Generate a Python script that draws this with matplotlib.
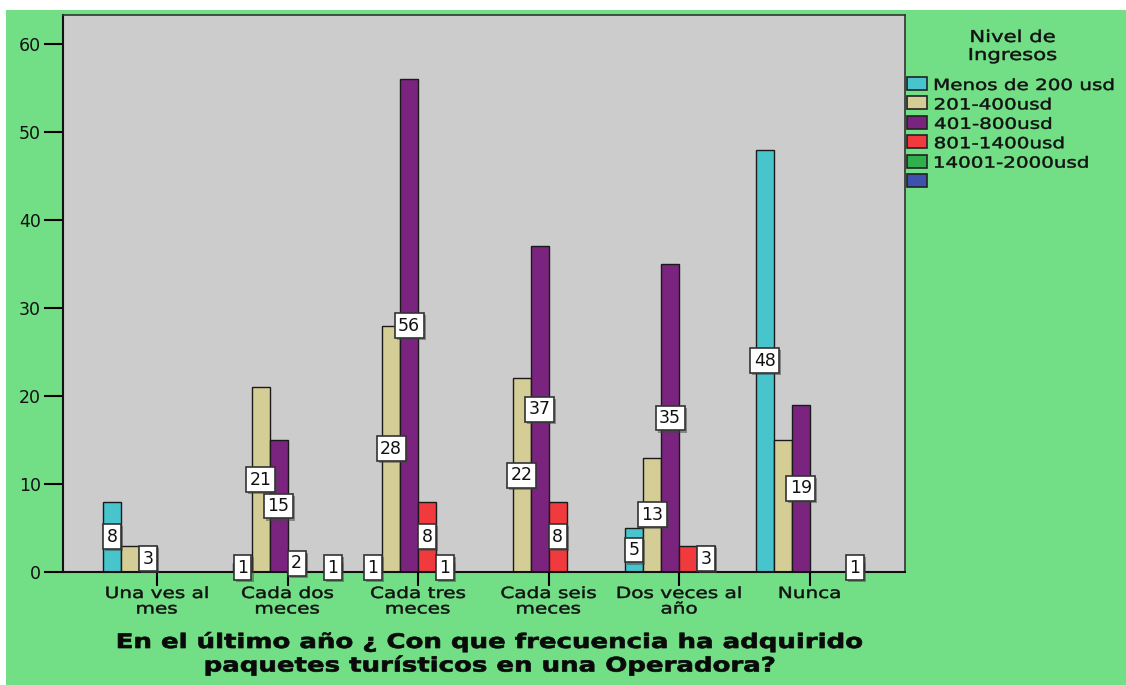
import numpy as np
import matplotlib
matplotlib.use("Agg")
import matplotlib.pyplot as plt
import matplotlib.patheffects as pe
from matplotlib.patches import Rectangle, PathPatch
from matplotlib.textpath import TextPath
from matplotlib.font_manager import FontProperties
from matplotlib.transforms import Affine2D, IdentityTransform

plt.rcParams['font.family'] = ['DejaVu Sans']

categorias = ["Una ves al\nmes", "Cada dos\nmeces", "Cada tres\nmeces",
              "Cada seis\nmeces", "Dos veces al\naño", "Nunca"]
series = ["Menos de 200 usd", "201-400usd", "401-800usd",
          "801-1400usd", "14001-2000usd", ""]
menos_200 = [8, 1, 1, 0, 5, 48]
r201_400 = [3, 21, 28, 22, 13, 15]
r401_800 = [3, 15, 56, 37, 35, 19]
r801_1400 = [0, 2, 8, 8, 3, 0]
r14001_2000 = [0, 0, 1, 0, 3, 0]
sin_dato = [0, 1, 0, 0, 0, 1]
valores = [menos_200, r201_400, r401_800, r801_1400, r14001_2000, sin_dato]
colores = ["#48c4cc", "#d4ce96", "#7a2480", "#f03a3e", "#2fb04c", "#3c52ac"]
titulo = ["En el último año ¿ Con que frecuencia ha adquirido",
          "paquetes turísticos en una Operadora?"]
titulo_leyenda = ["Nivel de", "Ingresos"]

W, H = 1126, 685
verde = "#72de86"
fig = plt.figure(figsize=(W / 100, H / 100), dpi=100, facecolor="white")
fig.patches.append(Rectangle((6 / W, 0), 1, 675 / H, transform=fig.transFigure,
                             facecolor=verde, edgecolor="none", zorder=-10))


# texto ensanchado (el original de SPSS sale estirado a lo ancho)
def texto(x, y, s, em, bold=False, ha="center", sx=1.3, color="#111111"):
    fp = FontProperties(family="DejaVu Sans", weight="bold" if bold else "normal")
    tp = TextPath((0, 0), s, size=em, prop=fp)
    ext = tp.get_extents()
    if ha == "center":
        dx = x - sx * (ext.x0 + ext.width / 2)
    else:
        dx = x - sx * ext.x0
    tr = Affine2D().scale(sx, 1).translate(dx, H - y)
    fig.add_artist(PathPatch(tr.transform_path(tp), facecolor=color, edgecolor=color,
                             linewidth=0.5 if bold else 0.35,
                             transform=IdentityTransform()))


ax = fig.add_axes([63 / W, 113 / H, 842 / W, 557 / H])
ax.set_facecolor("#cccccc")

x = np.arange(len(categorias))
ancho = 0.138
n = len(series)
for i, (vals, col) in enumerate(zip(valores, colores)):
    pos = x + (i - (n - 1) / 2) * ancho
    ax.bar(pos, vals, width=ancho, color=col, edgecolor="#1a1a1a", linewidth=1.0, zorder=2)

ax.set_xlim(-0.72, 5.73)
ax.set_ylim(0, 63.3)
ax.set_yticks([0, 10, 20, 30, 40, 50, 60])
ax.set_xticks(x)
ax.set_xticklabels([])
ax.tick_params(axis="y", labelsize=12.5, length=14, width=1.5, direction="out", pad=2,
               labelcolor="#111111")
ax.tick_params(axis="x", length=10, width=1.5, direction="out")
for s in ["left", "bottom"]:
    ax.spines[s].set_linewidth(1.5)
    ax.spines[s].set_color("#111111")
for s in ["top", "right"]:
    ax.spines[s].set_linewidth(1.2)
    ax.spines[s].set_color("#333333")

fig.canvas.draw()

# nombres de las categorías
for j, cat in enumerate(categorias):
    px = ax.transData.transform((x[j], 0))[0]
    for k, linea in enumerate(cat.split("\n")):
        texto(px, 598 + 15.5 * k, linea, 15.4)

# etiquetas de valor, a media altura; se omiten las que se solapan
colocadas = []
for i in range(n - 1, -1, -1):
    for j, v in enumerate(valores[i]):
        if v == 0:
            continue
        xp = x[j] + (i - (n - 1) / 2) * ancho
        yp = v / 2 if v > 1 else 0.5
        px, py = ax.transData.transform((xp, yp))
        w = 10 + 11 * len(str(v))
        h = 24
        caja = (px - w / 2, py - h / 2, px + w / 2, py + h / 2)
        choca = any(not (caja[2] < c[0] or caja[0] > c[2] or caja[3] < c[1] or caja[1] > c[3])
                    for c in colocadas)
        if choca:
            continue
        colocadas.append(caja)
        t = ax.text(xp, yp, str(v), ha="center", va="center", fontsize=12.5, zorder=5,
                    color="#111111",
                    bbox=dict(boxstyle="square,pad=0.2", facecolor="white",
                              edgecolor="#333333", linewidth=1.2))
        t.get_bbox_patch().set_path_effects([
            pe.SimplePatchShadow(offset=(1.5, -1.5), shadow_rgbFace="#444444", alpha=0.5),
            pe.Normal()])

# título del eje
for k, linea in enumerate(titulo):
    texto(490, 648 + 23.5 * k, linea, 20, bold=True, color="#0a0a0a")

# leyenda
for k, linea in enumerate(titulo_leyenda):
    texto(1013, 42 + 18 * k, linea, 16.3)
for k, (nombre, col) in enumerate(zip(series, colores)):
    ytop = 77 + 19.4 * k
    fig.add_artist(Rectangle((907, H - ytop - 13), 20, 13, facecolor=col,
                             edgecolor="#222222", linewidth=1.2,
                             transform=IdentityTransform()))
    if nombre:
        texto(935, ytop + 13, nombre, 15.3, ha="left")

fig.savefig("out.png", dpi=100, facecolor=fig.get_facecolor())
